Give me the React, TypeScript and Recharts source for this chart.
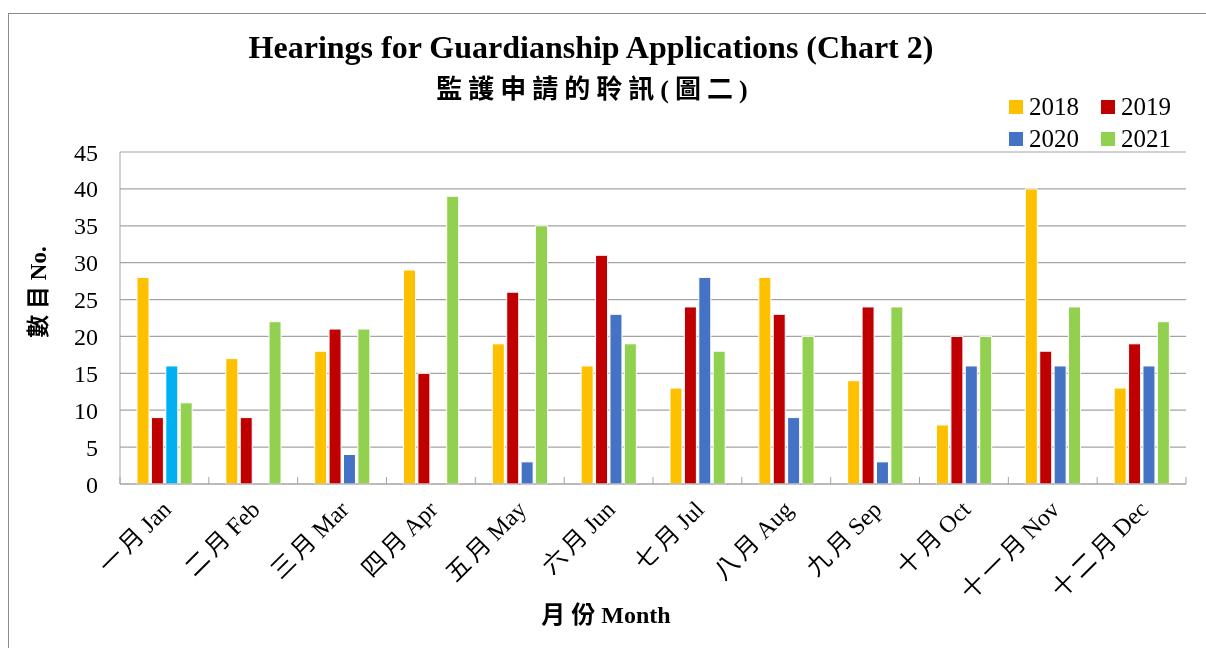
import React from 'react';
import { BarChart, Bar, XAxis, YAxis, CartesianGrid, Legend, Cell } from 'recharts';

// Monthly hearings, one array per year
const months = ['一月Jan', '二月Feb', '三月Mar', '四月Apr', '五月May', '六月Jun', '七月Jul', '八月Aug', '九月Sep', '十月Oct', '十一月Nov', '十二月Dec'];
const hearings2018 = [28, 17, 18, 29, 19, 16, 13, 28, 14, 8, 40, 13];
const hearings2019 = [9, 9, 21, 15, 26, 31, 24, 23, 24, 20, 18, 19];
const hearings2020 = [16, 0, 4, 0, 3, 23, 28, 9, 3, 16, 16, 16];
const hearings2021 = [11, 22, 21, 39, 35, 19, 18, 20, 24, 20, 24, 22];
const yTicks = [0, 5, 10, 15, 20, 25, 30, 35, 40, 45];

const data = months.map((m, i) => ({
  month: m,
  y2018: hearings2018[i],
  y2019: hearings2019[i],
  y2020: hearings2020[i],
  y2021: hearings2021[i],
}));

const W = 1198;
const H = 632;
const MARGIN = { top: 144, right: 20, bottom: 0, left: 0 };
const Y_AXIS_W = 112;
const X_AXIS_H = H - 476;
const PLOT_W = W - MARGIN.left - MARGIN.right - Y_AXIS_W;
const BAND = PLOT_W / months.length;

const FONT = "'Liberation Serif', 'Times New Roman', 'Noto Sans CJK TC', serif";
const GRID = '#a3a3a3';

function MonthTick(props: any) {
  const { x, y, payload, index } = props;
  const half = BAND / 2;
  const tx = x + 8;
  const ty = y + 27;
  // Chinese part is spread out a little, English part is not
  const match = /^([^\x00-\x7F]+)(.*)$/.exec(String(payload.value));
  const zh = match ? match[1] : '';
  const en = match ? match[2] : String(payload.value);
  return (
    <g>
      <line x1={x - half} x2={x - half} y1={y} y2={y - 7} stroke={GRID} />
      {index === months.length - 1 && <line x1={x + half} x2={x + half} y1={y} y2={y - 7} stroke={GRID} />}
      <text
        x={tx}
        y={ty}
        transform={`rotate(-45 ${tx} ${ty})`}
        textAnchor="end"
        fontFamily={FONT}
        fontSize={24}
        fill="#000"
      >
        <tspan letterSpacing={4}>{zh}</tspan>
        <tspan dx={2}>{en}</tspan>
      </text>
    </g>
  );
}

function YLabel(props: any) {
  const { viewBox } = props;
  const cx = viewBox.x + 30;
  const cy = viewBox.y + viewBox.height / 2 - 26;
  return (
    <text
      x={cx}
      y={cy}
      transform={`rotate(-90 ${cx} ${cy})`}
      textAnchor="middle"
      dominantBaseline="central"
      fontFamily={FONT}
      fontWeight="bold"
      fontSize={23}
      fill="#000"
    >
      數 目 No.
    </text>
  );
}

function XLabel(props: any) {
  const { viewBox } = props;
  const cx = viewBox.x + viewBox.width / 2 - 47;
  const cy = viewBox.y + 131;
  return (
    <text
      x={cx}
      y={cy}
      textAnchor="middle"
      dominantBaseline="central"
      fontFamily={FONT}
      fontWeight="bold"
      fontSize={24}
      fill="#000"
    >
      月 份 Month
    </text>
  );
}

function YearLegend(props: any) {
  const { payload } = props;
  return (
    <div style={{ display: 'grid', gridTemplateColumns: '92px 92px', gridAutoRows: '32px' }}>
      {(payload || []).map((item: any) => (
        <div key={item.value} style={{ display: 'flex', alignItems: 'center' }}>
          <span style={{ width: 14, height: 14, background: item.color, marginRight: 6, display: 'inline-block' }} />
          <span style={{ fontFamily: FONT, fontSize: 25, color: '#000' }}>{item.value}</span>
        </div>
      ))}
    </div>
  );
}

export default function App() {
  return (
    <div style={{ position: 'relative', width: W, height: H }}>
      {/* chart frame: only the left and top edges fall inside the picture */}
      <div
        style={{
          position: 'fixed',
          left: 8,
          top: 13,
          right: -10,
          bottom: -10,
          borderLeft: '1px solid #8c8c8c',
          borderTop: '1px solid #8c8c8c',
          pointerEvents: 'none',
        }}
      />
      <svg width={W} height={110} style={{ position: 'absolute', left: 0, top: 0 }}>
        <text x={583} y={50} textAnchor="middle" fontFamily={FONT} fontWeight="bold" fontSize={32} fill="#000">
          Hearings for Guardianship Applications (Chart 2)
        </text>
        <text
          x={587}
          y={90}
          textAnchor="middle"
          fontFamily={FONT}
          fontWeight="bold"
          fontSize={26}
          letterSpacing={6}
          fill="#000"
        >
          監護申請的聆訊(圖二)
        </text>
      </svg>
      <BarChart width={W} height={H} data={data} margin={MARGIN} barSize={12} barGap={2.4}>
        <CartesianGrid vertical={false} stroke={GRID} strokeWidth={1.2} />
        <XAxis
          dataKey="month"
          height={X_AXIS_H}
          stroke={GRID}
          tickLine={false}
          tickSize={0}
          tickMargin={0}
          interval={0}
          tick={<MonthTick />}
          label={<XLabel />}
        />
        <YAxis
          width={Y_AXIS_W}
          domain={[0, 45]}
          ticks={yTicks}
          interval={0}
          stroke={GRID}
          tickLine={false}
          tickSize={0}
          tickMargin={22}
          tick={{ fill: '#000', fontFamily: FONT, fontSize: 24 }}
          label={<YLabel />}
        />
        <Legend
          content={<YearLegend />}
          layout="horizontal"
          verticalAlign="middle"
          align="center"
          wrapperStyle={{ left: 1001, top: 83, width: 190 }}
        />
        <Bar dataKey="y2018" name="2018" fill="#FFC000" stroke="#fff" strokeWidth={1} isAnimationActive={false} />
        <Bar dataKey="y2019" name="2019" fill="#C00000" stroke="#fff" strokeWidth={1} isAnimationActive={false} />
        <Bar dataKey="y2020" name="2020" fill="#4472C4" stroke="#fff" strokeWidth={1} isAnimationActive={false}>
          {data.map((d, i) => (
            <Cell key={d.month} fill={i === 0 ? '#00B0F0' : '#4472C4'} />
          ))}
        </Bar>
        <Bar dataKey="y2021" name="2021" fill="#92D050" stroke="#fff" strokeWidth={1} isAnimationActive={false} />
      </BarChart>
    </div>
  );
}
